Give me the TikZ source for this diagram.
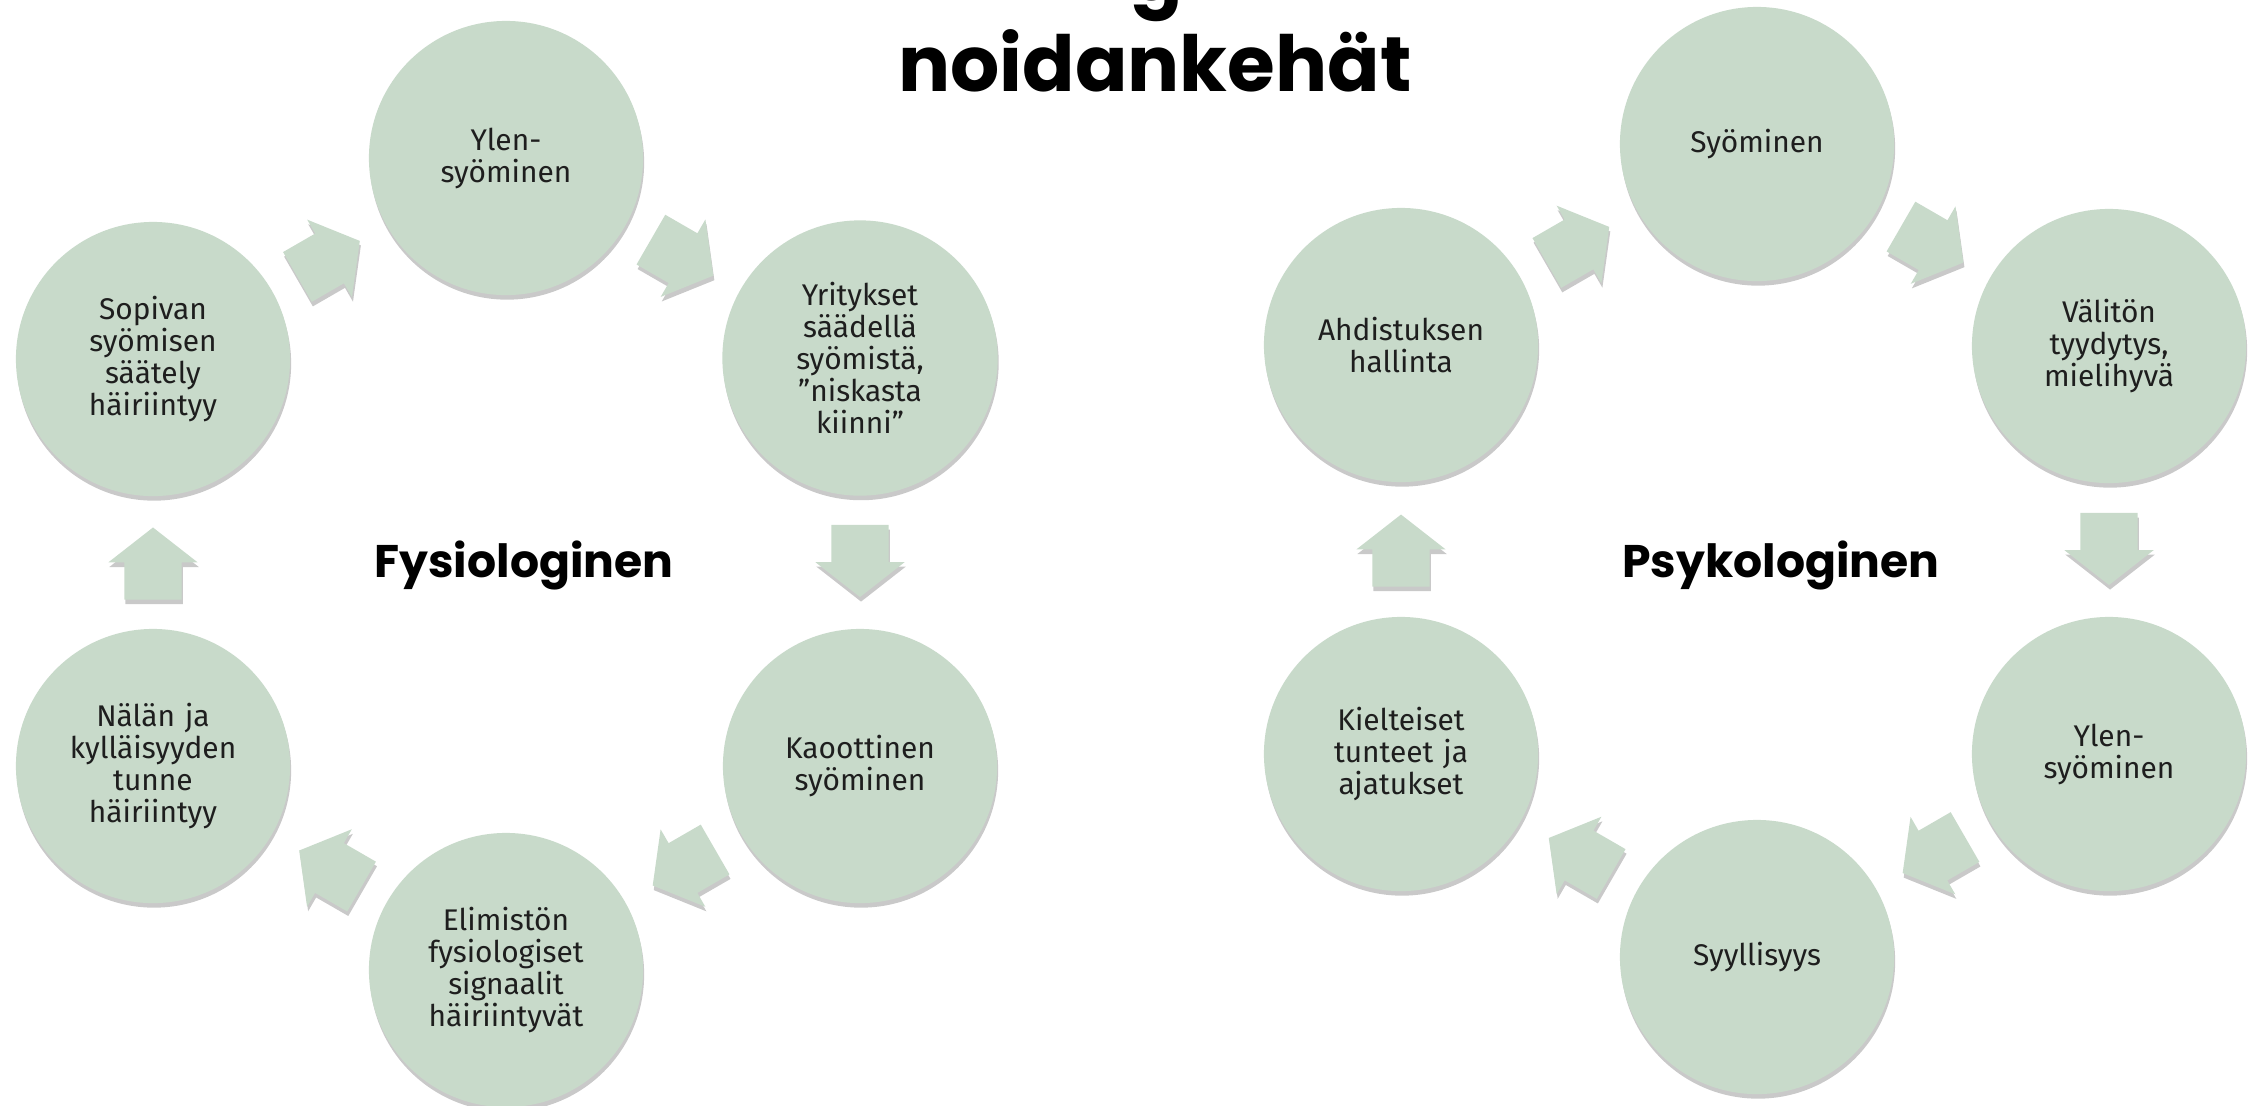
\documentclass[tikz,border=0pt]{standalone}
\usepackage{fontspec}
\setmainfont{Fira Sans}
\newfontfamily\headfont{Poppins}
\usetikzlibrary{calc}
\usetikzlibrary{shapes.arrows,shadows}
\definecolor{sage}{RGB}{200,218,202}
\definecolor{ink}{RGB}{30,30,30}

\begin{document}
\begin{tikzpicture}[x=0.01cm, y=-0.01cm, every node/.style={font=\fontsize{8.5}{9.1}\selectfont, text=ink}]
  % circle and block arrow styles shared by both cycles
  \tikzset{cyc/.style={circle, fill=sage, minimum size=2.74cm, inner sep=0pt, align=center, text width=2.3cm,
      drop shadow={shadow xshift=0.3pt, shadow yshift=-1.3pt, opacity=0.3, fill=black!70}}}
  \tikzset{turn/.style={single arrow, fill=sage, minimum height=0.72cm, inner xsep=0pt, inner ysep=0.28cm,
      text height=0pt, text depth=0pt, single arrow head extend=0.16cm, single arrow tip angle=104,
      drop shadow={shadow xshift=0.3pt, shadow yshift=-1.3pt, opacity=0.3, fill=black!70}}}
  \tikzset{heading/.style={font=\headfont\bfseries\fontsize{13}{15}\selectfont, text=black}}
  \useasboundingbox (0,0) rectangle (2254,1105);

  % title (first line runs off the top)
  \node[font=\headfont\bfseries\fontsize{22}{26}\selectfont, text=black, anchor=base] (gtail) at (1157,0) {g};
  \node[font=\headfont\bfseries\fontsize{22}{26}\selectfont, text=black, anchor=base] (title) at (1155,91) {noidankehät};

  % fysiologinen cycle
  \node[cyc] (ylen) at (506,158) {Ylen-\\syöminen};
  \node[cyc] (yrit) at (860,358) {Yritykset\\säädellä\\syömistä,\\”niskasta\\kiinni”};
  \node[cyc] (kaoo) at (860,766) {Kaoottinen\\syöminen};
  \node[cyc] (elim) at (506,970) {Elimistön\\fysiologiset\\signaalit\\häiriintyvät};
  \node[cyc] (nala) at (153,766) {Nälän ja\\kylläisyyden\\tunne\\häiriintyy};
  \node[cyc] (sopi) at (153,359) {Sopivan\\syömisen\\säätely\\häiriintyy};
  \node[heading] (fys) at (524,565) {Fysiologinen};

  % psykologinen cycle
  \node[cyc] (syo) at (1757,144) {Syöminen};
  \node[cyc] (vali) at (2109,346) {Välitön\\tyydytys,\\mielihyvä};
  \node[cyc] (ylen2) at (2109,754) {Ylen-\\syöminen};
  \node[cyc] (syyl) at (1757,957) {Syyllisyys};
  \node[cyc] (kiel) at (1401,754) {Kielteiset\\tunteet ja\\ajatukset};
  \node[cyc] (ahdi) at (1401,345) {Ahdistuksen\\hallinta};
  \node[heading] (psy) at (1781,565) {Psykologinen};

  % block arrows roughly halfway between neighbours
  \foreach \a/\b/\r in {sopi/ylen/30, ylen/yrit/-30, yrit/kaoo/-90, kaoo/elim/-150, elim/nala/150, nala/sopi/90,
      ahdi/syo/30, syo/vali/-30, vali/ylen2/-90, ylen2/syyl/-150, syyl/kiel/150, kiel/ahdi/90}
    \node[turn, rotate=\r] at ($(\a)!0.47!(\b)$) {};
\end{tikzpicture}
\end{document}
